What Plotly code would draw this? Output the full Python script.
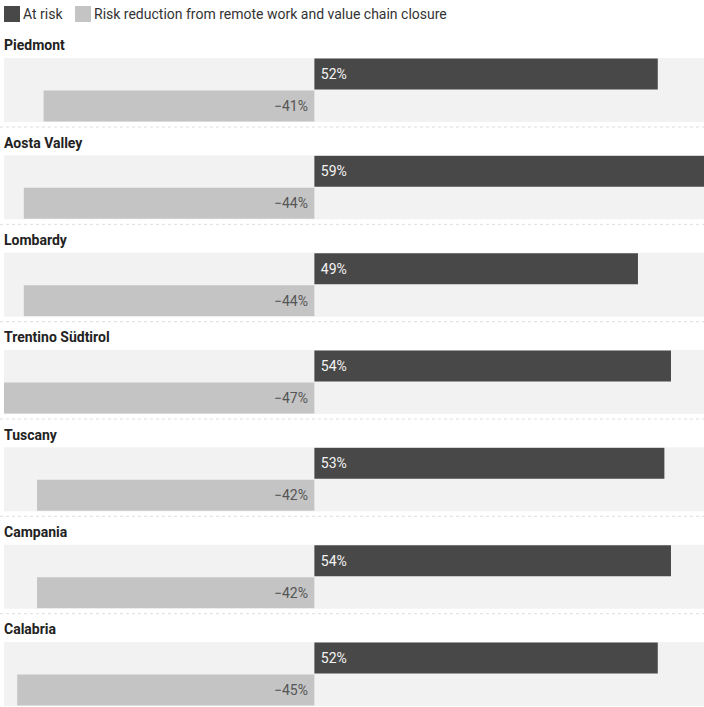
import plotly.graph_objects as go
from plotly.subplots import make_subplots

regions = ["Piedmont", "Aosta Valley", "Lombardy", "Trentino Südtirol", "Tuscany", "Campania", "Calabria"]
at_risk = [52, 59, 49, 54, 53, 54, 52]
reduction = [-41, -44, -44, -47, -42, -42, -45]
series_names = ["At risk", "Risk reduction from remote work and value chain closure"]
colors = ["#484848", "#c4c4c4"]

W, H = 704, 707
L = 4
top_px, bot_px = 58, 706
band_h = 64
step = 97.33
plot_h = bot_px - top_px
plot_w = W - L

def py(px):
    return (bot_px - px) / plot_h

def pxx(px):
    return (px - L) / plot_w

n = len(regions)
fig = make_subplots(rows=n, cols=1, shared_xaxes=False, vertical_spacing=0.02)

font_family = "Roboto, 'Open Sans', sans-serif"

for i, reg in enumerate(regions):
    r = i + 1
    fig.add_trace(go.Bar(
        x=[at_risk[i]], y=["a"], orientation="h", marker=dict(color=colors[0], line=dict(width=0)),
        name=series_names[0], showlegend=False,
        text=[f" {at_risk[i]}%"], textposition="inside", insidetextanchor="start",
        textfont=dict(color="#f4f4f4", size=14, family=font_family),
        hoverinfo="skip", cliponaxis=False,
    ), row=r, col=1)
    fig.add_trace(go.Bar(
        x=[reduction[i]], y=["b"], orientation="h", marker=dict(color=colors[1], line=dict(width=0)),
        name=series_names[1], showlegend=False,
        text=[f"\u2212{abs(reduction[i])}% "], textposition="inside", insidetextanchor="start",
        textfont=dict(color="#555555", size=14, family=font_family),
        hoverinfo="skip", cliponaxis=False,
    ), row=r, col=1)
    band_top = top_px + i * step
    dom = [py(band_top + band_h), py(band_top)]
    xa = "xaxis" if r == 1 else f"xaxis{r}"
    ya = "yaxis" if r == 1 else f"yaxis{r}"
    fig.layout[ya].update(domain=dom, categoryorder="array", categoryarray=["b", "a"],
                          showticklabels=False, showgrid=False, zeroline=False, fixedrange=True)
    fig.layout[xa].update(range=[-47, 59], showticklabels=False, showgrid=False, zeroline=False,
                          fixedrange=True)
    fig.add_annotation(text=f"<b>{reg}</b>", xref="paper", yref="paper", x=pxx(4), y=py(band_top - 12.5),
                       xanchor="left", yanchor="middle", showarrow=False, xshift=-2,
                       font=dict(size=14, color="#222222", family=font_family))
    sep = band_top + band_h + 5
    if i < n - 1:
        fig.add_shape(type="line", xref="paper", yref="paper", x0=pxx(0), x1=1, y0=py(sep), y1=py(sep),
                      line=dict(color="#dedede", width=1, dash="dot"))

# legend (manual)
leg_items = [(4, 23), (75, 94)]
for (sx, tx), name, col in zip(leg_items, series_names, colors):
    fig.add_shape(type="rect", xref="paper", yref="paper", x0=pxx(sx), x1=pxx(sx + 16),
                  y0=py(22), y1=py(6), fillcolor=col, line=dict(width=0))
    fig.add_annotation(text=name, xref="paper", yref="paper", x=pxx(tx), y=py(14),
                       xanchor="left", yanchor="middle", showarrow=False, xshift=-2,
                       font=dict(size=14, color="#333333", family=font_family))

fig.update_layout(
    width=W, height=H,
    margin=dict(l=L, r=0, t=top_px, b=H - bot_px),
    paper_bgcolor="white", plot_bgcolor="#f2f2f2",
    barmode="overlay", bargap=0.03,
    font=dict(family=font_family, color="#333333"),
    showlegend=False,
)

fig.write_html("out.html", config={"displayModeBar": False},
               post_script="document.body.style.margin='0';document.body.style.padding='0';")
